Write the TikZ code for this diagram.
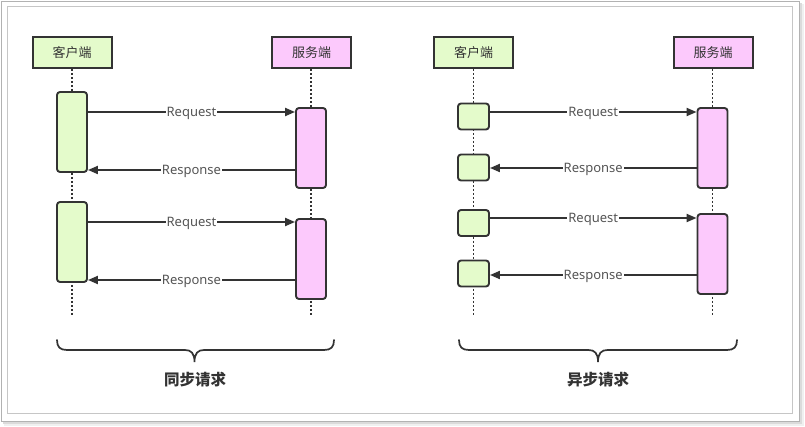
\documentclass[tikz,border=0pt]{standalone}
\usepackage{fontspec}
\setmainfont{Noto Sans}
\newfontfamily\cjk{Noto Sans CJK SC}
\usetikzlibrary{arrows.meta}
\definecolor{clientfill}{HTML}{E4FBCB}
\definecolor{serverfill}{HTML}{FCC9FC}
\definecolor{ink}{HTML}{333333}
\definecolor{labelgray}{HTML}{555555}
\begin{document}
\begin{tikzpicture}[x=1pt,y=-1pt,
  head/.style={draw=ink, line width=2pt, minimum width=79pt, minimum height=31pt,
    inner sep=0pt, font=\cjk\fontsize{13}{15}\selectfont, text=ink},
  clienthead/.style={head, fill=clientfill},
  serverhead/.style={head, fill=serverfill},
  actbox/.style={draw=ink, line width=1.9pt, rounded corners=3pt, inner sep=0pt,
    minimum width=30pt},
  clientact/.style={actbox, fill=clientfill, minimum height=80pt},
  serveract/.style={actbox, fill=serverfill, minimum height=80pt},
  smallact/.style={actbox, fill=clientfill, minimum width=31pt, minimum height=26pt},
  lifeline/.style={ink, line width=1.8pt, dash pattern=on 1.6pt off 2.4pt},
  msg/.style={ink, line width=2pt, -{Triangle[length=10pt,width=8pt]}},
  msglabel/.style={fill=white, inner sep=1pt, text=labelgray, yshift=-1pt,
    font=\fontsize{13}{15}\selectfont},
  bracepath/.style={ink, line width=1.7pt, line cap=round},
  caption/.style={font=\cjk\bfseries\fontsize{15.5}{18}\selectfont, text=ink}]

\useasboundingbox (0,0) rectangle (805,427);

% framed card with a soft drop shadow
\fill[gray!12] (4,4) rectangle (804,426);
\fill[gray!28] (3,3) rectangle (801.5,423.5);
\draw[gray!60, fill=white, line width=1pt] (1.5,1.5) rectangle (799,421);
\draw[gray!45, line width=1pt] (7,7) rectangle (792,413.5);

% ---------- synchronous requests ----------
\node[clienthead] (ch1) at (72,52.5) {客户端};
\node[serverhead] (sh1) at (311.5,52.5) {服务端};
\coordinate (cl1) at (72,316);
\coordinate (sl1) at (311,316);
\draw[lifeline] (ch1.south) -- (cl1);
\draw[lifeline] (sh1.south -| sl1) -- (sl1);

\node[clientact] (ca1) at (72,132) {};
\node[serveract] (sa1) at (311,148) {};
\node[clientact] (ca2) at (72,242) {};
\node[serveract] (sa2) at (311,259) {};

\draw[msg] (ca1.east |- 0,112) -- (sa1.west |- 0,112)
  node[msglabel, midway] {Request};
\draw[msg] (sa1.west |- 0,170) -- (ca1.east |- 0,170)
  node[msglabel, midway] {Response};
\draw[msg] (ca2.east |- 0,222) -- (sa2.west |- 0,222)
  node[msglabel, midway] {Request};
\draw[msg] (sa2.west |- 0,280) -- (ca2.east |- 0,280)
  node[msglabel, midway] {Response};

\coordinate (b1l) at (57,340);
\coordinate (b1tip) at (194.5,362);
\coordinate (b1r) at (334,340);
\draw[bracepath] (b1l) .. controls (57,347) and (60,350) .. (67,350)
  -- (185,350) .. controls (191,350) and (194.5,353) .. (b1tip)
  .. controls (194.5,353) and (198,350) .. (204,350)
  -- (324,350) .. controls (331,350) and (334,347) .. (b1r);
\node[caption] (cap1) at (195,379.5) {同步请求};

% ---------- asynchronous requests ----------
\node[clienthead] (ch2) at (473.5,52.5) {客户端};
\node[serverhead] (sh2) at (713,52.5) {服务端};
\coordinate (cl2) at (473.5,316);
\coordinate (sl2) at (712.5,316);
\draw[lifeline] (ch2.south) -- (cl2);
\draw[lifeline] (sh2.south -| sl2) -- (sl2);

\node[smallact] (cb1) at (473.5,116.5) {};
\node[smallact] (cb2) at (473.5,167.5) {};
\node[smallact] (cb3) at (473.5,223) {};
\node[smallact] (cb4) at (473.5,273.5) {};
\node[serveract] (sb1) at (712.5,148) {};
\node[serveract] (sb2) at (712.5,254) {};

\draw[msg] (cb1.east |- 0,112) -- (sb1.west |- 0,112)
  node[msglabel, midway] {Request};
\draw[msg] (sb1.west |- 0,168) -- (cb2.east |- 0,168)
  node[msglabel, midway] {Response};
\draw[msg] (cb3.east |- 0,218) -- (sb2.west |- 0,218)
  node[msglabel, midway] {Request};
\draw[msg] (sb2.west |- 0,275) -- (cb4.east |- 0,275)
  node[msglabel, midway] {Response};

\coordinate (b2l) at (459,340);
\coordinate (b2tip) at (598,362);
\coordinate (b2r) at (737,340);
\draw[bracepath] (b2l) .. controls (459,347) and (462,350) .. (469,350)
  -- (588.5,350) .. controls (594.5,350) and (598,353) .. (b2tip)
  .. controls (598,353) and (601.5,350) .. (607.5,350)
  -- (727,350) .. controls (734,350) and (737,347) .. (b2r);
\node[caption] (cap2) at (598,379.5) {异步请求};
\end{tikzpicture}
\end{document}
